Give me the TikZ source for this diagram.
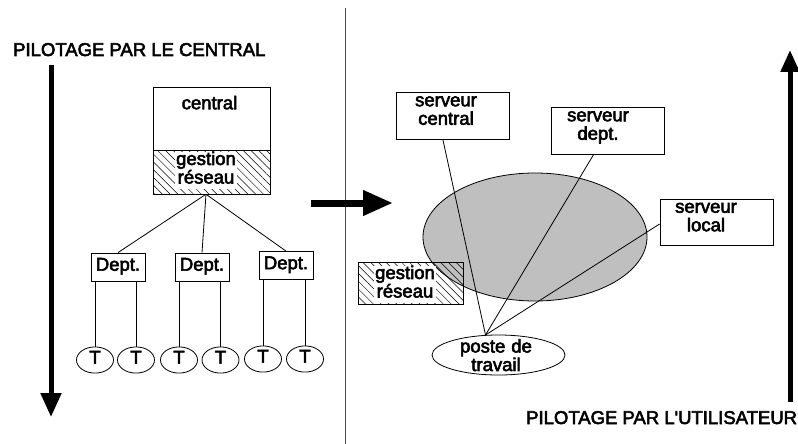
\documentclass[tikz,border=0pt]{standalone}
\usepackage{fontspec}
\setmainfont{Liberation Sans}[FakeBold=3]
\usetikzlibrary{arrows.meta,patterns.meta,shapes.geometric,calc}

\begin{document}
\begin{tikzpicture}[x=1pt,y=-1pt,
  box/.style={draw, line width=0.8pt, rectangle, inner sep=0pt},
  lbl/.style={align=center, inner sep=0pt, font=\fontsize{18.5}{18.5}\selectfont,
    execute at begin node=\strut, execute at end node=\strut},
  title/.style={inner sep=0pt, font=\fontsize{18.5}{20}\selectfont},
  hatch/.style={pattern={Lines[angle=-45,distance=5.5pt,line width=0.5pt]}},
  link/.style={line width=0.8pt},
  bigarrow/.style={line width=5pt, -{Triangle[length=24pt,width=20pt]}},
]
\useasboundingbox (0,0) rectangle (798,444);

% separator between the two halves
\coordinate (septop) at (345,8);
\coordinate (sepbot) at (345,444);
\draw[black!70, line width=1pt] (septop) -- (sepbot);

% ---------- left half: centralised control ----------
\node[title, anchor=base west] (ttl) at (13,56) {PILOTAGE PAR LE CENTRAL};
\coordinate (ltop) at (51,65);
\coordinate (lbot) at (51,417);
\draw[bigarrow] (ltop) -- (lbot);

\node[box, minimum width=117pt, minimum height=63pt] (cbox) at (211.5,118.5) {};
\node[box, hatch, minimum width=117pt, minimum height=44pt] (cnet) at (211.5,172) {};
\node[lbl] (ctext) at (209.5,105.3) {central};
\node[lbl, fill=white, inner xsep=1pt, inner ysep=0pt] (cnettext) at (206,170.3) {gestion\\réseau};

\node[box, lbl, minimum width=54pt, minimum height=28pt] (d1) at (118,267) {Dept.};
\node[box, lbl, minimum width=54pt, minimum height=28pt] (d2) at (202,267) {Dept.};
\node[box, lbl, minimum width=54pt, minimum height=28pt] (d3) at (286,265.5) {Dept.};

\coordinate (hub) at ($(cnet.south)+(-5.5,0)$);
\draw[link] (hub) -- (d1.north);
\draw[link] (hub) -- (d2.north);
\draw[link] (hub) -- (d3.north);

\tikzset{term/.style={ellipse, draw, line width=0.8pt, lbl, minimum width=37pt, minimum height=18pt}}
\node[term] (t1) at (95,360) {T};
\node[term] (t2) at (136,360) {T};
\node[term] (t3) at (179,360) {T};
\node[term] (t4) at (220.5,360) {T};
\node[term] (t5) at (263,359) {T};
\node[term] (t6) at (305,359) {T};
\foreach \t/\d in {t1/d1,t2/d1,t3/d2,t4/d2,t5/d3,t6/d3}
  \draw[link] (\t.north) -- (\t.north |- \d.south);

% transition arrow
\coordinate (mstart) at (311,203);
\coordinate (mend) at (393,203);
\draw[line width=7pt, -{Triangle[length=30pt,width=24pt]}] (mstart) -- (mend);

% ---------- right half: user-driven control ----------
\node[box, minimum width=113pt, minimum height=47pt] (sc) at (452.5,115.5) {};
\node[box, minimum width=113pt, minimum height=47pt] (sd) at (607.5,130.5) {};
\node[box, minimum width=113pt, minimum height=46pt] (sl) at (716.5,222) {};
\node[lbl] (sctext) at (446,113.3) {serveur\\central};
\node[lbl] (sdtext) at (598,128.3) {serveur\\dept.};
\node[lbl] (sltext) at (706,219.8) {serveur\\local};

\node[ellipse, draw, line width=0.8pt, fill=black!25, minimum width=224pt, minimum height=128pt] (lan) at (535,237) {};

\node[box, hatch, minimum width=105pt, minimum height=42pt] (gr) at (410.5,283) {};
\node[lbl, fill=white, inner xsep=1pt, inner ysep=0pt] (grtext) at (405,284.3) {gestion\\réseau};

\node[ellipse, draw, line width=0.8pt, fill=white, minimum width=133pt, minimum height=40pt, inner sep=0pt] (poste) at (498.5,355) {};
\node[lbl] (postetext) at (496,357.8) {poste\hspace{6pt}de\\travail};

\coordinate (ws) at (poste.123);
\draw[link] (ws) -- (sc.248);
\draw[link] (ws) -- (sd.240);
\draw[link] (ws) -- (sl.182);

\coordinate (rbot) at (790,402);
\coordinate (rtop) at (790,50);
\draw[line width=5pt, -{Triangle[length=22pt,width=18pt]}] (rbot) -- (rtop);
\node[title, anchor=base west] (ttr) at (526,424) {PILOTAGE PAR L\textquotesingle UTILISATEUR};
\end{tikzpicture}
\end{document}
